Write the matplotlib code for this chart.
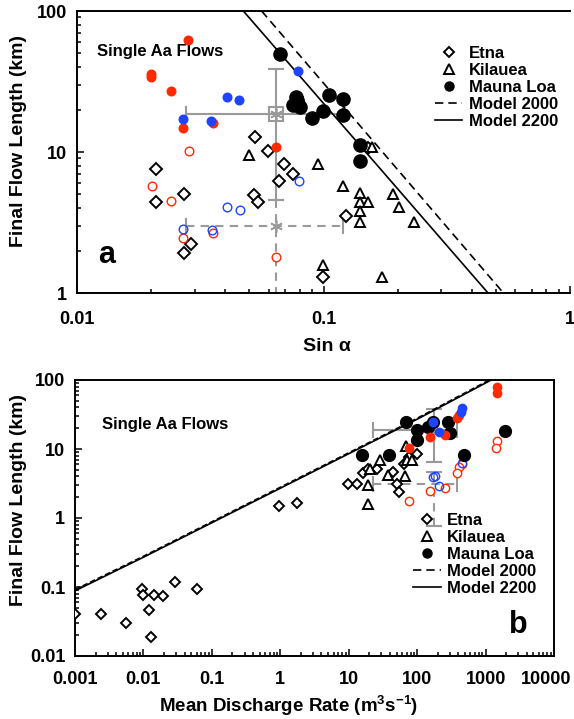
import matplotlib
matplotlib.use('Agg')
import matplotlib.pyplot as plt
import matplotlib.transforms as mtransforms
from matplotlib.lines import Line2D
from matplotlib.ticker import NullFormatter, LogLocator

plt.rcParams['font.family'] = ['Liberation Sans', 'DejaVu Sans']
plt.rcParams['font.weight'] = 'bold'
plt.rcParams['mathtext.fontset'] = 'custom'
plt.rcParams['mathtext.rm'] = 'Liberation Sans:bold'
plt.rcParams['mathtext.default'] = 'rm'

# ---------------- Panel a data (sin alpha vs final length, km) ----------------
etna_a_x = [0.0526, 0.0598, 0.0210, 0.0692, 0.0750, 0.0660, 0.0271, 0.0210, 0.0521, 0.0544,
            0.0290, 0.0271, 0.0997, 0.151, 0.123]
etna_a_y = [12.7, 10.1, 7.6, 8.17, 6.93, 6.25, 5.07, 4.42, 4.93, 4.42,
            2.23, 1.91, 1.29, 10.6, 3.50]
kil_a_x = [0.0953, 0.0499, 0.120, 0.140, 0.140, 0.152, 0.140, 0.140, 0.191, 0.203,
           0.233, 0.157, 0.0997, 0.172]
kil_a_y = [8.26, 9.45, 5.74, 5.12, 4.42, 4.42, 3.82, 3.19, 5.07, 4.07,
           3.19, 10.8, 1.58, 1.30]
ml_a_x = [0.0663, 0.075, 0.078, 0.080, 0.077, 0.079, 0.105, 0.120, 0.0993, 0.0902, 0.120, 0.140, 0.140]
ml_a_y = [49.4, 21.5, 23.5, 21.0, 24.5, 22.0, 25.5, 23.8, 19.4, 17.3, 18.3, 11.3, 8.61]
redf_a_x = [0.0283, 0.0200, 0.0200, 0.0240, 0.0270, 0.0355, 0.0640]
redf_a_y = [62.4, 36.0, 34.2, 27.2, 14.8, 16.0, 10.8]
bluef_a_x = [0.0268, 0.0351, 0.0405, 0.0455, 0.0790]
bluef_a_y = [17.1, 16.7, 24.4, 23.5, 37.3]
redo_a_x = [0.0284, 0.0201, 0.0240, 0.0270, 0.0357, 0.0640]
redo_a_y = [10.2, 5.74, 4.47, 2.46, 2.68, 1.79]
blueo_a_x = [0.0795, 0.0406, 0.0458, 0.0270, 0.0354]
blueo_a_y = [6.25, 4.05, 3.90, 2.85, 2.82]
model_a_x2000 = [0.0561, 0.537]
model_a_y2000 = [100, 1]
model_a_x2200 = [0.0473, 0.465]
model_a_y2200 = [100, 1]
# error crosses: center, x range, y range
errs_a_c = (0.064, 18.6); errs_a_x = (0.0276, 0.120); errs_a_y = (4.54, 38.7)
errd_a_c = (0.064, 3.01); errd_a_x = (0.0276, 0.120); errd_a_y = (0.76, 4.54)

# ---------------- Panel b data (discharge vs final length) ----------------
etna_b_x = [0.001, 0.0024, 0.0056, 0.0096, 0.0099, 0.0143, 0.0195, 0.0122, 0.0128, 0.029, 0.060,
            0.955, 1.74, 9.87, 13.1, 16.3, 19.4, 25.6, 44.9, 64.3, 50.2, 55, 98.6, 76.9]
etna_b_y = [0.04, 0.04, 0.03, 0.093, 0.076, 0.076, 0.074, 0.047, 0.019, 0.12, 0.093,
            1.49, 1.64, 3.14, 3.07, 4.49, 5.2, 5.1, 4.6, 6.0, 3.07, 2.37, 8.4, 7.7]
kil_b_x = [19.4, 19.4, 28.7, 37.9, 66.4, 68.7, 71, 83, 20.5]
kil_b_y = [2.97, 1.57, 6.86, 4.2, 4.0, 11, 6.86, 6.86, 5.2]
ml_b_x = [15.5, 39.2, 68.7, 98.6, 98.6, 145.5, 285, 302, 489, 1923, 172]
ml_b_y = [8.3, 8.3, 24.8, 18.7, 13.4, 20.9, 24.3, 17.1, 8.3, 18.1, 24.8]
bluef_b_x = [172, 211, 448, 440]
bluef_b_y = [24.8, 17.7, 38.7, 34]
redf_b_x = [1455, 1455, 379, 414, 154, 255, 76.9]
redf_b_y = [80, 64, 27.7, 31, 14.7, 15.8, 10.5]
redo_b_x = [1455, 1420, 448, 414, 379, 154, 255, 76.9]
redo_b_y = [13.1, 10.5, 6.0, 5.4, 4.5, 2.45, 2.75, 1.76]
blueo_b_x = [448, 168, 180, 211]
blueo_b_y = [6.3, 3.92, 4.0, 2.87]
model_b_x = [0.001, 0.01, 1, 100, 1211]
model_b_y2200 = [0.088, 0.27, 2.7, 27, 100]
model_b_y2000 = [0.092, 0.28, 2.8, 28, 104]
errs_b_c = (176, 18.7); errs_b_x = (23, 379); errs_b_y = (6.5, 37.4)
errd_b_c = (176, 3.07); errd_b_x = (23, 379); errd_b_y = (0.76, 4.6)

RED = '#ff2a00'
BLUE = '#1f44ff'
GRAY = '#9a9a9a'

fig = plt.figure(figsize=(5.74, 7.19), dpi=100)
axa = fig.add_axes([77/574, 1-293/719, 493/574, 282/719])
axb = fig.add_axes([75/574, 1-656/719, 479/574, 276/719])


def cross(ax, c, xr, yr, ls):
    cx, cy = c
    eb = ax.errorbar([cx], [cy], xerr=[[cx - xr[0]], [xr[1] - cx]],
                     yerr=[[cy - yr[0]], [yr[1] - cy]], fmt='none', ecolor=GRAY,
                     elinewidth=1.5, capsize=6, capthick=1.5, zorder=1.5)
    for lc in eb[2]:
        lc.set_linestyle(ls)


def draw(ax, d, ms_big, ms_small, ms_d, ms_t):
    ax.plot(d['etna'][0], d['etna'][1], 'D', ms=ms_d, mfc='white', mec='black', mew=1.4, ls='none', zorder=3)
    ax.plot(d['kil'][0], d['kil'][1], '^', ms=ms_t, mfc='white', mec='black', mew=1.4, ls='none', zorder=3)
    ax.plot(d['redo'][0], d['redo'][1], 'o', ms=ms_small, mfc='white', mec=RED, mew=1.0, ls='none', zorder=3)
    ax.plot(d['blueo'][0], d['blueo'][1], 'o', ms=ms_small, mfc='none', mec=BLUE, mew=1.0, ls='none', zorder=3)
    ax.plot(d['ml'][0], d['ml'][1], 'o', ms=ms_big, mfc='black', mec='black', ls='none', zorder=4)
    ax.plot(d['redf'][0], d['redf'][1], 'o', ms=ms_small, mfc=RED, mec=RED, ls='none', zorder=5)
    ax.plot(d['bluef'][0], d['bluef'][1], 'o', ms=ms_small, mfc=BLUE, mec=BLUE, ls='none', zorder=5)


# ---------- panel a ----------
axa.set_xscale('log'); axa.set_yscale('log')
axa.set_xlim(0.01, 1); axa.set_ylim(1, 100)
axa.plot(model_a_x2000, model_a_y2000, color='black', lw=1.2, ls=(0, (5, 3)), zorder=2)
axa.plot(model_a_x2200, model_a_y2200, color='black', lw=1.2, zorder=2)
cross(axa, errs_a_c, errs_a_x, errs_a_y, '-')
cross(axa, errd_a_c, errd_a_x, errd_a_y, (0, (4, 3)))
axa.plot([errs_a_c[0]], [errs_a_c[1]], 's', ms=10, mfc='none', mec=GRAY, mew=1.5, zorder=1.6)
axa.plot([errs_a_c[0]], [errs_a_c[1]], marker=(6, 2, 0), ms=9, mec=GRAY, mew=1.2, ls='none', zorder=1.6)
axa.plot([errd_a_c[0]], [errd_a_c[1]], marker=(6, 2, 0), ms=9, mec=GRAY, mew=1.2, ls='none', zorder=1.6)
draw(axa, dict(etna=(etna_a_x, etna_a_y), kil=(kil_a_x, kil_a_y), ml=(ml_a_x, ml_a_y),
               redf=(redf_a_x, redf_a_y), bluef=(bluef_a_x, bluef_a_y),
               redo=(redo_a_x, redo_a_y), blueo=(blueo_a_x, blueo_a_y)),
     ms_big=9.5, ms_small=6.2, ms_d=6, ms_t=6.8)
axa.set_xticks([0.01, 0.1, 1], ['0.01', '0.1', '1'])
axa.set_yticks([1, 10, 100], ['1', '10', '100'])
axa.spines['right'].set_visible(False)

# ---------- panel b ----------
axb.set_xscale('log'); axb.set_yscale('log')
axb.set_xlim(0.001, 10000); axb.set_ylim(0.01, 100)
axb.plot(model_b_x, model_b_y2000, color='black', lw=1.0, ls=(0, (4, 2)), zorder=2)
axb.plot(model_b_x, model_b_y2200, color='black', lw=1.2, zorder=2)
cross(axb, errs_b_c, errs_b_x, errs_b_y, '-')
cross(axb, errd_b_c, errd_b_x, errd_b_y, (0, (4, 3)))
draw(axb, dict(etna=(etna_b_x, etna_b_y), kil=(kil_b_x, kil_b_y), ml=(ml_b_x, ml_b_y),
               redf=(redf_b_x, redf_b_y), bluef=(bluef_b_x, bluef_b_y),
               redo=(redo_b_x, redo_b_y), blueo=(blueo_b_x, blueo_b_y)),
     ms_big=8.5, ms_small=6.0, ms_d=5.3, ms_t=6.8)
xt = [0.001, 0.01, 0.1, 1, 10, 100, 1000, 10000]
axb.set_xticks(xt, ['0.001', '0.01', '0.1', '1', '10', '100', '1000', '10000'])
axb.set_yticks([0.01, 0.1, 1, 10, 100], ['0.01', '0.1', '1', '10', '100'])

for ax in (axa, axb):
    ax.xaxis.set_minor_locator(LogLocator(base=10, subs=range(2, 10), numticks=20))
    ax.yaxis.set_minor_locator(LogLocator(base=10, subs=range(2, 10), numticks=20))
    ax.xaxis.set_minor_formatter(NullFormatter())
    ax.yaxis.set_minor_formatter(NullFormatter())
    ax.tick_params(which='both', direction='in', top=False, right=False, labelsize=13, width=1.1)
    ax.tick_params(which='major', length=5)
    ax.tick_params(which='minor', length=3)
    for s in ax.spines.values():
        s.set_linewidth(1.4)
    for lab in ax.get_xticklabels() + ax.get_yticklabels():
        lab.set_fontweight('bold')
    ax.set_ylabel('Final Flow Length (km)', fontsize=14, fontweight='bold')

axa.tick_params(axis='x', which='major', pad=13)
axa.tick_params(axis='y', which='major', pad=7)
axb.tick_params(axis='x', which='major', pad=11)
axb.tick_params(axis='y', which='major', pad=7)

# keep the last tick label of panel b inside the figure
last = axb.get_xticklabels()[-1]
last.set_transform(last.get_transform() + mtransforms.ScaledTranslation(-6/72, 0, fig.dpi_scale_trans))

axa.set_xlabel('Sin α', fontsize=14, fontweight='bold')
axb.set_xlabel('Mean Discharge Rate (m$^{3}$s$^{-1}$)', fontsize=13.5, fontweight='bold')
axa.xaxis.set_label_coords(0.507, -0.16)
axb.xaxis.set_label_coords(0.445, -0.138)
axa.yaxis.set_label_coords(-0.101, 0.539)
axb.yaxis.set_label_coords(-0.100, 0.565)

axa.text(0.0406, 0.858, 'Single Aa Flows', transform=axa.transAxes, fontsize=12, fontweight='bold', va='center', ha='left')
axb.text(0.0557, 0.837, 'Single Aa Flows', transform=axb.transAxes, fontsize=12, fontweight='bold', va='center', ha='left')
axa.text(0.061, 0.106, 'a', transform=axa.transAxes, fontsize=22, fontweight='bold', ha='center', va='baseline')
axb.text(0.925, 0.083, 'b', transform=axb.transAxes, fontsize=22, fontweight='bold', ha='center', va='baseline')

handles = [
    Line2D([], [], marker='D', ms=5.5, mfc='white', mec='black', mew=1.4, ls='none'),
    Line2D([], [], marker='^', ms=6.5, mfc='white', mec='black', mew=1.4, ls='none'),
    Line2D([], [], marker='o', ms=6.5, mfc='black', mec='black', ls='none'),
    Line2D([], [], color='black', lw=1.2, ls=(0, (5, 3))),
    Line2D([], [], color='black', lw=1.2),
]
labels = ['Etna', 'Kilauea', 'Mauna Loa', 'Model 2000', 'Model 2200']
for ax, anchor in ((axa, (0.726, 0.876)), (axb, (0.706, 0.518))):
    ax.legend(handles, labels, loc='upper left', bbox_to_anchor=anchor, frameon=False,
              prop={'weight': 'bold', 'size': 12}, borderpad=0, borderaxespad=0,
              handlelength=1.65, handletextpad=0.4, labelspacing=0.12)

fig.savefig('out.png', dpi=100)
